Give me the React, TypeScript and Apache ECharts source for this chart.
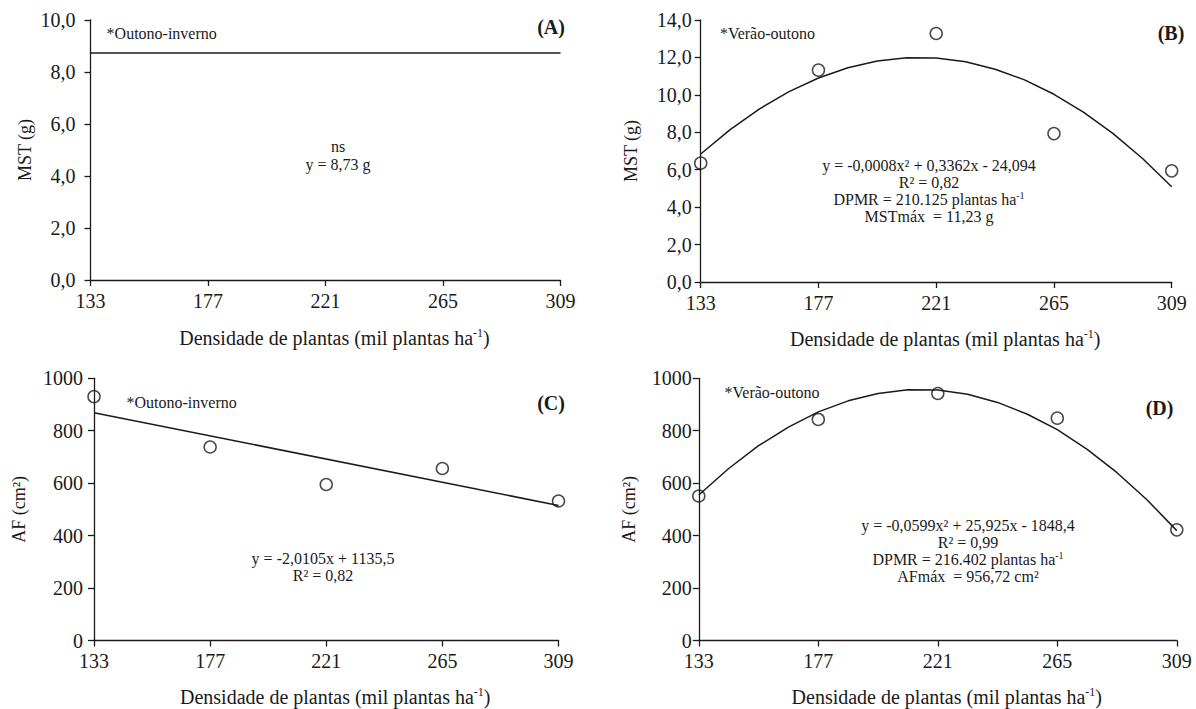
import React, { useEffect, useRef } from "react";
import * as echarts from "echarts";

// ---- data ----
const densityTicks = [133, 177, 221, 265, 309];
const densities = [133, 177, 221, 265, 309];
const curveX = [133, 144, 155, 166, 177, 188, 199, 210, 221, 232, 243, 254, 265, 276, 287, 298, 309];

// (A) MST, autumn-winter: non-significant, mean
const mstMeanA = 8.73;
// (B) MST, summer-autumn
const mstObsB = [6.35, 11.32, 13.28, 7.93, 5.94];
const mstFitB = [6.84, 8.14, 9.25, 10.17, 10.9, 11.45, 11.81, 11.98, 11.97, 11.77, 11.37, 10.8, 10.03, 9.08, 7.94, 6.61, 5.09];
// (C) AF, autumn-winter
const afObsC = [930, 738, 595, 656, 532];
const afFitXC = [133, 309];
const afFitC = [869, 515];
// (D) AF, summer-autumn
const afObsD = [551, 843, 942, 848, 422];
const afFitD = [555, 656, 743, 814, 872, 914, 942, 956, 955, 939, 908, 863, 804, 729, 640, 537, 419];

const X0 = 133;
const XSTEP = 44;
const XSPAN = 176;

const FONT = "Liberation Serif, Times New Roman, Times, serif";
const INK = "#1a1a1a";

const pairs = (xs: number[], ys: number[]) => xs.map((x, i) => [x - X0, ys[i]]);

export default function App() {
  const ref = useRef<HTMLDivElement>(null);

  useEffect(() => {
    if (!ref.current) return;
    const chart = echarts.init(ref.current, undefined, { renderer: "svg" });

    const grids = [
      { left: 90.5, top: 20, width: 470, height: 260 },
      { left: 700.7, top: 20, width: 471, height: 262 },
      { left: 94, top: 378.3, width: 464.5, height: 264.4 },
      { left: 698.8, top: 378.3, width: 478, height: 266 },
    ];

    const axisLine = { show: true, lineStyle: { color: INK, width: 1.3 } };
    const axisTick = { show: true, inside: false, length: 6, lineStyle: { color: INK, width: 1.3 } };

    const xLabelMargins = [11, 11, 10, 10];
    const xNameGaps = [46.5, 46, 45.5, 45.5];
    const xAxes = grids.map((_, i) => ({
      type: "value",
      gridIndex: i,
      min: 0,
      max: XSPAN,
      interval: XSTEP,
      axisLine,
      axisTick,
      splitLine: { show: false },
      axisLabel: {
        margin: xLabelMargins[i],
        color: INK,
        fontFamily: FONT,
        fontSize: 20,
        formatter: (v: number) => String(Math.round(v + X0)),
      },
      name: "Densidade de plantas (mil plantas ha{sup|-1})",
      nameLocation: "middle",
      nameGap: xNameGaps[i],
      nameTextStyle: {
        color: INK,
        fontFamily: FONT,
        fontSize: 20,
        lineHeight: 22,
        padding: [0, 0, 0, 18],
        rich: { sup: { fontSize: 12, fontFamily: FONT, color: INK, verticalAlign: "top", lineHeight: 12 } },
      },
    }));

    const yMax = [10, 14, 1000, 1000];
    const yInt = [2, 2, 200, 200];
    const yMargins = [15, 9, 11, 7];
    const yNames = ["MST (g)", "MST (g)", "AF (cm²)", "AF (cm²)"];
    const yNameGaps = [56, 60, 65, 60];
    const yAxes = grids.map((_, i) => ({
      type: "value",
      gridIndex: i,
      min: 0,
      max: yMax[i],
      interval: yInt[i],
      axisLine,
      axisTick,
      splitLine: { show: false },
      axisLabel: {
        margin: yMargins[i],
        color: INK,
        fontFamily: FONT,
        fontSize: 20,
        formatter: (v: number) => (i < 2 ? v.toFixed(1).replace(".", ",") : String(v)),
      },
      name: yNames[i],
      nameLocation: "middle",
      nameGap: yNameGaps[i],
      nameTextStyle: { color: INK, fontFamily: FONT, fontSize: 18, lineHeight: 20 },
    }));

    const lineStyle = { color: INK, width: 1.5 };
    const scatterStyle = {
      symbol: "circle",
      symbolSize: 12,
      itemStyle: { color: "rgba(255,255,255,0)", borderColor: INK, borderWidth: 1.5 },
    };

    const series: any[] = [
      {
        type: "line",
        xAxisIndex: 0,
        yAxisIndex: 0,
        data: pairs([densityTicks[0], densityTicks[densityTicks.length - 1]], [mstMeanA, mstMeanA]),
        showSymbol: false,
        symbol: "none",
        lineStyle,
      },
      {
        type: "line",
        xAxisIndex: 1,
        yAxisIndex: 1,
        data: pairs(curveX, mstFitB),
        smooth: false,
        symbol: "none",
        lineStyle,
      },
      { type: "scatter", xAxisIndex: 1, yAxisIndex: 1, data: pairs(densities, mstObsB), ...scatterStyle, z: 3 },
      {
        type: "line",
        xAxisIndex: 2,
        yAxisIndex: 2,
        data: pairs(afFitXC, afFitC),
        symbol: "none",
        lineStyle,
      },
      { type: "scatter", xAxisIndex: 2, yAxisIndex: 2, data: pairs(densities, afObsC), ...scatterStyle, z: 3 },
      {
        type: "line",
        xAxisIndex: 3,
        yAxisIndex: 3,
        data: pairs(curveX, afFitD),
        smooth: false,
        symbol: "none",
        lineStyle,
      },
      { type: "scatter", xAxisIndex: 3, yAxisIndex: 3, data: pairs(densities, afObsD), ...scatterStyle, z: 3 },
    ];

    const supRich = { sup: { fontSize: 10, fontFamily: FONT, fill: INK, verticalAlign: "top", lineHeight: 10 } };

    const txt = (
      text: string,
      x: number,
      y: number,
      opts: { size?: number; bold?: boolean; align?: string; lh?: number } = {}
    ) => ({
      type: "text",
      x,
      y,
      silent: true,
      style: {
        text,
        fill: INK,
        fontFamily: FONT,
        fontSize: opts.size ?? 16,
        fontWeight: opts.bold ? "bold" : "normal",
        align: opts.align ?? "left",
        textAlign: opts.align ?? "left",
        verticalAlign: "top",
        textVerticalAlign: "top",
        lineHeight: opts.lh ?? 17,
        rich: supRich,
      },
    });

    const graphic = [
      // panel A
      txt("*Outono-inverno", 106.6, 24.5),
      txt("(A)", 551, 15.5, { size: 20, bold: true, align: "center", lh: 22 }),
      txt("ns\ny = 8,73 g", 338, 138, { align: "center", lh: 17.6 }),
      // panel B
      txt("*Verão-outono", 719.9, 24.5),
      txt("(B)", 1171, 22.3, { size: 20, bold: true, align: "center", lh: 22 }),
      txt(
        "y = -0,0008x² + 0,3362x - 24,094\nR² = 0,82\nDPMR = 210.125 plantas ha{sup|-1}\nMSTmáx  = 11,23 g",
        929,
        156.5,
        { align: "center", lh: 17.2 }
      ),
      // panel C
      txt("*Outono-inverno", 126.5, 394),
      txt("(C)", 551, 392, { size: 20, bold: true, align: "center", lh: 22 }),
      txt("y = -2,0105x + 1135,5\nR² = 0,82", 323, 550, { align: "center", lh: 16.7 }),
      // panel D
      txt("*Verão-outono", 724.5, 383.5),
      txt("(D)", 1159.5, 397.3, { size: 20, bold: true, align: "center", lh: 22 }),
      txt(
        "y = -0,0599x² + 25,925x - 1848,4\nR² = 0,99\nDPMR = 216.402 plantas ha{sup|-1}\nAFmáx  = 956,72 cm²",
        968,
        516.5,
        { align: "center", lh: 17 }
      ),
    ];

    chart.setOption({
      animation: false,
      backgroundColor: "#ffffff",
      textStyle: { fontFamily: FONT },
      grid: grids,
      xAxis: xAxes,
      yAxis: yAxes,
      series,
      graphic,
    });

    return () => chart.dispose();
  }, []);

  return (
    <div
      ref={ref}
      style={{ position: "absolute", left: 0, top: 0, width: 1196, height: 709, background: "#fff" }}
    />
  );
}
